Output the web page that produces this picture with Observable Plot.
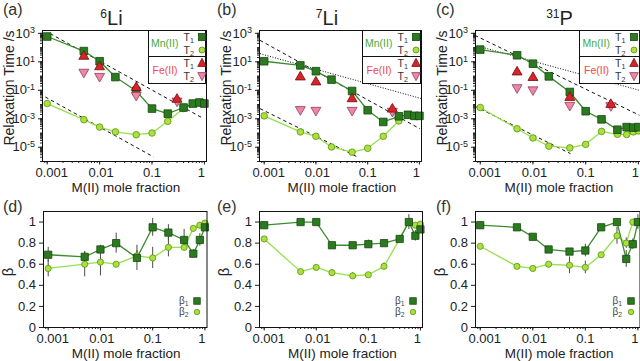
<!DOCTYPE html>
<html>
<head>
<meta charset="utf-8">
<script src="https://cdn.jsdelivr.net/npm/d3@7"></script>
<script src="https://cdn.jsdelivr.net/npm/@observablehq/plot@0.6"></script>
<style>
  body { margin: 0; background: #fff; }
  #fig { position: relative; width: 640px; height: 361px; overflow: hidden;
         font-family: "Liberation Sans", Arial, Helvetica, sans-serif; color: #222; background: #fff; }
  .abs { position: absolute; white-space: nowrap; }
  .leg { position: absolute; box-sizing: border-box; border: 1px solid #111; background: #fff; }
  .leg .it { position: absolute; white-space: nowrap; line-height: 12px; height: 12px; }
  sub { font-size: 0.68em; vertical-align: -0.25em; line-height: 0; }
  sup { font-size: 0.6em; vertical-align: 0.55em; line-height: 0; }
</style>
</head>
<body>
<div id="fig"></div>
<script>
// ---------------- data ----------------
const X = [0.001, 0.005, 0.01, 0.02, 0.05, 0.1, 0.2, 0.4, 0.6, 0.8, 1];
const X_FE = [0.005, 0.01, 0.05, 0.3];
const X_TICKS = [0.001, 0.01, 0.1, 1];
const Y_TICKS_T = [1e3, 1e1, 1e-1, 1e-3, 1e-5];
const Y_TICKS_B = [0, 0.2, 0.4, 0.6, 0.8, 1];

const TAGS_TOP = ["(a)", "(b)", "(c)"];
const TAGS_BOT = ["(d)", "(e)", "(f)"];
const NUCLEI = [["6", "Li"], ["7", "Li"], ["31", "P"]];
const X_TITLE = "M(II) mole fraction";
const Y_TITLE_T = "Relaxation Time /s";
const Y_TITLE_B = "β";

// 6Li relaxation times (s)
const li6_T1 = [600, 57, 11, 0.85, 0.089, 0.0052, 0.0023, 0.0062, 0.0117, 0.0138, 0.0117];
const li6_T2 = [0.0117, 8.7e-4, 2.6e-4, 1.2e-4, 7.6e-5, 1.0e-4, 6.6e-4, 5.2e-3, 0.0117, 0.015, 0.013];
const li6_FeT1 = [24, 4.4, 0.155, 0.023];
const li6_FeT2 = [1.9, 0.96, 0.045, 0.018];
const li6_FeErr = [1, 1, 1.8, 1.5];
const li6_dashed = [{x1: 0.00114, y1: 955, x2: 0.97, y2: 1.02e-3}, {x1: 0.00092, y1: 0.034, x2: 0.107, y2: 2.1e-6}];
const li6_dotted = [];

// 7Li relaxation times (s)
const li7_T1 = [11, 5.6, 2.2, 0.56, 0.089, 0.004, 6e-4, 1.5e-3, 1.9e-3, 1.6e-3, 1.6e-3];
const li7_T2 = [1.6e-3, 1.2e-4, 5.9e-5, 1.05e-5, 4.5e-6, 8.5e-6, 5.9e-5, 7e-4, 1.9e-3, 1.6e-3, 1.6e-3];
const li7_FeT1 = [0.85, 0.38, 0.025, 4.7e-3];
const li7_FeT2 = [4.5e-3, 4e-3, 4e-3, 3.4e-3];
const li7_FeErr = [1, 1, 1, 1.6];
const li7_dashed = [{x1: 0.00083, y1: 324, x2: 1.02, y2: 2.0e-4}, {x1: 0.00083, y1: 5.2e-3, x2: 0.063, y2: 2.1e-6}];
const li7_dotted = [{x1: 0.00083, y1: 37.6, x2: 1.096, y2: 0.026}];

// 31P relaxation times (s)
const p31_T1 = [72, 29, 7.4, 0.95, 0.076, 3.4e-3, 9.1e-4, 1.7e-4, 2.6e-4, 2.4e-4, 2.6e-4];
const p31_T2 = [6.2e-3, 2.0e-4, 4.5e-5, 1.2e-5, 9e-6, 1.6e-5, 1.3e-4, 8.1e-5, 7.8e-5, 1.2e-4, 1.4e-4];
const p31_FeT1 = [1.9, 0.78, 0.031, 0.01];
const p31_FeT2 = [0.155, 0.11, 8.9e-3, 8.5e-3];
const p31_FeErr = [1, 1, 1, 1.6];
const p31_dashed = [{x1: 0.00079, y1: 724, x2: 1.045, y2: 1.78e-3}, {x1: 0.00079, y1: 7.6e-3, x2: 0.0513, y2: 3.6e-6}];
const p31_dotted = [{x1: 0.00079, y1: 145, x2: 1.045, y2: 0.1}];

// stretching exponents beta
const li6_b1 = [0.69, 0.67, 0.74, 0.80, 0.66, 0.95, 0.90, 0.83, 0.70, 0.83, 0.95];
const li6_b1e = [0.07, 0.045, 0.04, 0.095, 0.12, 0.085, 0.075, 0.1, 0.04, 0.06, 0.03];
const li6_b2 = [0.56, 0.60, 0.62, 0.60, 0.68, 0.66, 0.76, 0.76, 0.94, 0.97, 0.99];
const li6_b2e = [0.08, 0.12, 0.13, 0.01, 0.05, 0.1, 0.09, 0.03, 0.02, 0.02, 0.02];

const li7_b1 = [0.97, 1.0, 1.0, 0.78, 0.78, 0.79, 0.80, 0.84, 1.0, 0.87, 0.93];
const li7_b1e = [0.01, 0.01, 0.01, 0.02, 0.01, 0.04, 0.02, 0.02, 0.07, 0.05, 0.03];
const li7_b2 = [0.84, 0.53, 0.57, 0.52, 0.49, 0.50, 0.58, 0.84, 1.0, 0.97, 0.98];
const li7_b2e = [0.01, 0.01, 0.01, 0.03, 0.03, 0.01, 0.03, 0.01, 0.02, 0.02, 0.02];

const p31_b1 = [0.97, 0.95, 0.86, 0.74, 0.72, 0.73, 0.95, 1.0, 0.65, 0.79, 1.0];
const p31_b1e = [0.01, 0.01, 0.01, 0.03, 0.03, 0.06, 0.03, 0.02, 0.08, 0.05, 0.07];
const p31_b2 = [0.77, 0.58, 0.56, 0.60, 0.59, 0.57, 0.69, 0.87, 0.80, 1.0, 1.0];
const p31_b2e = [0.01, 0.01, 0.01, 0.01, 0.08, 0.06, 0.01, 0.08, 0.05, 0.01, 0.02];

// ---------------- style ----------------
const FONT = '"Liberation Sans", Arial, Helvetica, sans-serif';
const C = {
  t1Fill: "#2c7a20", t1Stroke: "#16480f", t1Line: "#3a8c2c",
  t2Fill: "#a8e23a", t2Stroke: "#5e8f1c", t2Line: "#96e04c",
  feT1Fill: "#d9232b", feT1Stroke: "#700c0c",
  feT2Fill: "#ec88a6", feT2Stroke: "#98395a",
  mnText: "#4aa83c", feText: "#f0484a", err: "#4a4a4a", axis: "#222"
};
const X_DOMAIN = [10 ** -3.09, 10 ** 0.04];
const Y_DOMAIN_T = [1e-6, 10 ** 3.2];
const Y_DOMAIN_B = [0, 1.1];
// horizontal nudges of the x tick labels (the original sets them slightly inward)
const X_LABEL_DX = {"0.001": 4.5, "0.01": 1.5, "0.1": 0, "1": -3};

function minorLog(lo, hi) {
  const out = [];
  for (let k = Math.floor(Math.log10(lo)); k <= Math.ceil(Math.log10(hi)); k++)
    for (let m = 1; m <= 9; m++) { const v = m * 10 ** k; if (v >= lo && v <= hi) out.push(v); }
  return out;
}
const X_MINOR = minorLog(X_DOMAIN[0], X_DOMAIN[1]);
const Y_MINOR_T = minorLog(Y_DOMAIN_T[0], Y_DOMAIN_T[1]);

const fig = document.getElementById("fig");
function addDiv(html, css, cls = "abs") {
  const d = document.createElement("div");
  d.className = cls; d.style.cssText = css; d.innerHTML = html; fig.appendChild(d); return d;
}

function makePanel({fx0, fx1, fy0, fy1, log, marks}) {
  const mL = 44, mR = 2, mT = 2, mB = 30;
  const svg = Plot.plot({
    width: fx1 - fx0 + mL + mR,
    height: fy1 - fy0 + mT + mB,
    marginLeft: mL, marginRight: mR, marginTop: mT, marginBottom: mB,
    x: {type: "log", domain: X_DOMAIN},
    y: log ? {type: "log", domain: Y_DOMAIN_T} : {type: "linear", domain: Y_DOMAIN_B},
    style: {fontFamily: FONT, fontSize: "13px", color: C.axis, background: "none", overflow: "visible"},
    marks: [
      Plot.axisX({ticks: X_MINOR, tickSize: 2, tickFormat: () => "", label: null}),
      Plot.axisX({ticks: X_TICKS, tickSize: 3.5, tickPadding: 2.5, tickFormat: d => String(d), label: null}),
      log ? Plot.axisY({ticks: Y_MINOR_T, tickSize: 2, tickFormat: () => "", label: null}) : null,
      Plot.axisY({ticks: log ? Y_TICKS_T : Y_TICKS_B, tickSize: 4, tickPadding: 3.5,
                  tickFormat: log ? (d => `10^${Math.round(Math.log10(d))}`) : (d => String(d)), label: null}),
      ...marks,
      Plot.frame({stroke: "#111", strokeWidth: 1})
    ]
  });
  svg.querySelectorAll('[aria-label="y-axis tick label"] text').forEach(t => {
    const m = /^10\^(-?\d+)$/.exec(t.textContent);
    if (m) {
      t.textContent = "10";
      const ts = document.createElementNS("http://www.w3.org/2000/svg", "tspan");
      ts.setAttribute("dy", "-0.45em"); ts.setAttribute("font-size", "9");
      ts.textContent = m[1];
      t.appendChild(ts);
    }
  });
  svg.querySelectorAll('[aria-label="x-axis tick label"] text').forEach(t => {
    const dx = X_LABEL_DX[t.textContent];
    if (dx) t.setAttribute("dx", dx);
  });
  svg.style.position = "absolute";
  svg.style.left = (fx0 - mL) + "px";
  svg.style.top = (fy0 - mT) + "px";
  fig.appendChild(svg);
}

function symSvg(kind, fill, stroke, size) {
  const s = size;
  let shape;
  if (kind === "square") shape = `<rect x="${6 - s / 2}" y="${6 - s / 2}" width="${s}" height="${s}"/>`;
  else if (kind === "circle") shape = `<circle cx="6" cy="6" r="${s / 2}"/>`;
  else if (kind === "up") shape = `<path d="M6,${6 - s * 0.55} L${6 + s / 2},${6 + s * 0.4} L${6 - s / 2},${6 + s * 0.4} Z"/>`;
  else shape = `<path d="M6,${6 + s * 0.55} L${6 + s / 2},${6 - s * 0.4} L${6 - s / 2},${6 - s * 0.4} Z"/>`;
  return `<svg width="12" height="12" viewBox="0 0 12 12" style="display:block"><g fill="${fill}" stroke="${stroke}" stroke-width="0.8">${shape}</g></svg>`;
}

function topLegend(left, right) {
  const w = right - left;
  const item = (html, x, cy, extra = "") => `<div class="it" style="left:${x}px;top:${cy - 7}px;${extra}">${html}</div>`;
  const sym = (k, f, s, sz, cy) => `<div class="it" style="left:${53.5 - 6}px;top:${cy - 7}px">${symSvg(k, f, s, sz)}</div>`;
  const html =
    `<div style="position:absolute;left:0;right:0;top:${26 - 1}px;border-top:1px solid #111"></div>` +
    item("Mn(II)", 2.5, 13, `color:${C.mnText};font-size:10.5px`) +
    item("T<sub>1</sub>", 35, 6.5, "color:#333;font-size:10.5px") + sym("square", C.t1Fill, C.t1Stroke, 7, 6.5) +
    item("T<sub>2</sub>", 35, 19.5, "color:#333;font-size:10.5px") + sym("circle", C.t2Fill, C.t2Stroke, 6, 19.5) +
    item("Fe(II)", 4, 40, `color:${C.feText};font-size:10.5px`) +
    item("T<sub>1</sub>", 35, 33, "color:#333;font-size:10.5px") + sym("up", C.feT1Fill, C.feT1Stroke, 8.5, 33) +
    item("T<sub>2</sub>", 35, 46, "color:#333;font-size:10.5px") + sym("down", C.feT2Fill, C.feT2Stroke, 8.5, 46);
  addDiv(html, `left:${left}px;top:30px;width:${w}px;height:54px;`, "leg");
}

function botLegend(fx1) {
  const row = (label, kind, fill, stroke, sz, cy) => {
    addDiv(label, `left:${fx1 - 27}px;top:${cy - 6}px;line-height:11px;font-size:10px;color:#444`);
    addDiv(symSvg(kind, fill, stroke, sz), `left:${fx1 - 15}px;top:${cy - 6}px`);
  };
  row("β<sub>1</sub>", "square", C.t1Fill, C.t1Stroke, 6.5, 301);
  row("β<sub>2</sub>", "circle", C.t2Fill, C.t2Stroke, 5.5, 312);
}

// ---------------- panels ----------------
const TOP = [
  {fx0: 42, fx1: 206, legL: 147.5, titleCx: 111.5, tagX: 3,
   T1: li6_T1, T2: li6_T2, FeT1: li6_FeT1, FeT2: li6_FeT2, FeErr: li6_FeErr, dashed: li6_dashed, dotted: li6_dotted},
  {fx0: 259, fx1: 421, legL: 361.5, titleCx: 327, tagX: 217,
   T1: li7_T1, T2: li7_T2, FeT1: li7_FeT1, FeT2: li7_FeT2, FeErr: li7_FeErr, dashed: li7_dashed, dotted: li7_dotted},
  {fx0: 474.5, fx1: 639.5, legL: 579, titleCx: 559.5, tagX: 436,
   T1: p31_T1, T2: p31_T2, FeT1: p31_FeT1, FeT2: p31_FeT2, FeErr: p31_FeErr, dashed: p31_dashed, dotted: p31_dotted}
];
const BOT = [
  {fx0: 42.5, fx1: 206, tagX: 3, b1: li6_b1, b1e: li6_b1e, b2: li6_b2, b2e: li6_b2e},
  {fx0: 259, fx1: 422, tagX: 217, b1: li7_b1, b1e: li7_b1e, b2: li7_b2, b2e: li7_b2e},
  {fx0: 475, fx1: 639.5, tagX: 436, b1: p31_b1, b1e: p31_b1e, b2: p31_b2, b2e: p31_b2e}
];

TOP.forEach((p, i) => {
  const rows = X.map((x, j) => ({x, t1: p.T1[j], t2: p.T2[j]}));
  const fe = X_FE.map((x, j) => ({x, t1: p.FeT1[j], t2: p.FeT2[j], e: p.FeErr[j]}));
  const feErr = fe.filter(d => d.e > 1).map(d => ({x: d.x, lo: d.t1 / d.e, hi: d.t1 * d.e}));
  makePanel({
    fx0: p.fx0, fx1: p.fx1, fy0: 30, fy1: 161, log: true,
    marks: [
      Plot.link(p.dashed, {x1: "x1", y1: "y1", x2: "x2", y2: "y2", stroke: "#111", strokeWidth: 1, strokeDasharray: "3.5,3", clip: true}),
      Plot.link(p.dotted, {x1: "x1", y1: "y1", x2: "x2", y2: "y2", stroke: "#111", strokeWidth: 1, strokeDasharray: "1,1.6", clip: true}),
      Plot.line(rows, {x: "x", y: "t2", stroke: C.t2Line, strokeWidth: 1.3}),
      Plot.line(rows, {x: "x", y: "t1", stroke: C.t1Line, strokeWidth: 1.3}),
      Plot.ruleX(feErr, {x: "x", y1: "lo", y2: "hi", stroke: C.err, strokeWidth: 1}),
      Plot.dot(rows, {x: "x", y: "t2", r: 3.3, fill: C.t2Fill, stroke: C.t2Stroke, strokeWidth: 0.8}),
      Plot.dot(rows, {x: "x", y: "t1", symbol: "square", r: 4.3, fill: C.t1Fill, stroke: C.t1Stroke, strokeWidth: 0.8}),
      Plot.dot(fe, {x: "x", y: "t2", symbol: "triangle", rotate: 180, r: 3.7, fill: C.feT2Fill, stroke: C.feT2Stroke, strokeWidth: 0.8}),
      Plot.dot(fe, {x: "x", y: "t1", symbol: "triangle", r: 3.7, fill: C.feT1Fill, stroke: C.feT1Stroke, strokeWidth: 0.8})
    ]
  });
  topLegend(p.legL, p.fx1);
  addDiv(TAGS_TOP[i], `left:${p.tagX}px;top:1px;font-size:16px;line-height:18px;color:#333`);
  addDiv(`<sup style="font-size:12px;vertical-align:7px">${NUCLEI[i][0]}</sup>${NUCLEI[i][1]}`,
         `left:${p.titleCx}px;top:7px;transform:translateX(-50%);font-size:20px;line-height:22px;color:#222`);
  addDiv(Y_TITLE_T, `left:${p.fx0 - 33}px;top:88px;transform:translate(-50%,-50%) rotate(-90deg);font-size:14px;line-height:12px`);
  addDiv(X_TITLE, `left:${(p.fx0 + p.fx1) / 2 + 2}px;top:188px;transform:translate(-50%,-50%);font-size:13.5px;line-height:10px`);
});

BOT.forEach((p, i) => {
  const rows = X.map((x, j) => ({x, b1: p.b1[j], b1e: p.b1e[j], b2: p.b2[j], b2e: p.b2e[j]}));
  makePanel({
    fx0: p.fx0, fx1: p.fx1, fy0: 211, fy1: 327, log: false,
    marks: [
      Plot.line(rows, {x: "x", y: "b2", stroke: C.t2Line, strokeWidth: 1.3}),
      Plot.line(rows, {x: "x", y: "b1", stroke: C.t1Line, strokeWidth: 1.3}),
      Plot.ruleX(rows, {x: "x", y1: d => d.b2 - d.b2e, y2: d => d.b2 + d.b2e, stroke: C.err, strokeWidth: 1}),
      Plot.ruleX(rows, {x: "x", y1: d => d.b1 - d.b1e, y2: d => d.b1 + d.b1e, stroke: C.err, strokeWidth: 1}),
      Plot.dot(rows, {x: "x", y: "b2", r: 3.1, fill: C.t2Fill, stroke: C.t2Stroke, strokeWidth: 0.8}),
      Plot.dot(rows, {x: "x", y: "b1", symbol: "square", r: 4.1, fill: C.t1Fill, stroke: C.t1Stroke, strokeWidth: 0.8})
    ]
  });
  botLegend(p.fx1);
  addDiv(TAGS_BOT[i], `left:${p.tagX}px;top:198px;font-size:16px;line-height:18px;color:#333`);
  addDiv(Y_TITLE_B, `left:${p.fx0 - 35}px;top:272px;transform:translate(-50%,-50%) rotate(-90deg);font-size:15px;line-height:12px`);
  addDiv(X_TITLE, `left:${(p.fx0 + p.fx1) / 2 + 2}px;top:353.5px;transform:translate(-50%,-50%);font-size:13.5px;line-height:10px`);
});
</script>
</body>
</html>
